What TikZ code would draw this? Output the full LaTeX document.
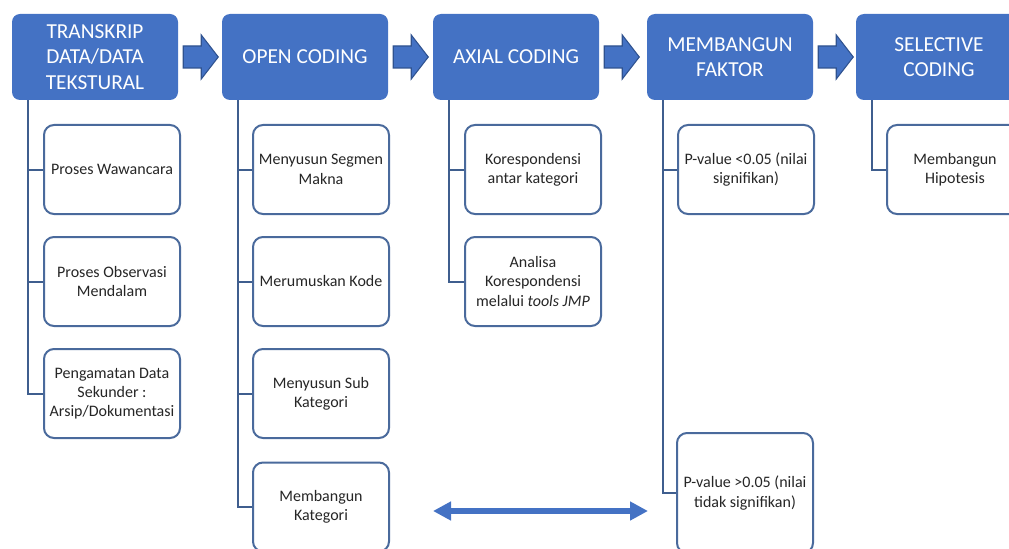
\documentclass[tikz,border=0pt]{standalone}
\usepackage{fontspec}
\setmainfont{Carlito}
\usepackage{tikz}
\usetikzlibrary{arrows.meta, positioning, calc}
\definecolor{hblue}{HTML}{4472C4}
\definecolor{hedge}{HTML}{2F528F}
\definecolor{cedge}{HTML}{4A6A9C}
\definecolor{tline}{HTML}{3F5E8E}

\tikzset{
  stagebox/.style={rectangle, rounded corners=6pt, fill=hblue, text=white,
    minimum width=124.5pt, minimum height=64.5pt, inner sep=0pt, align=center,
    font=\fontsize{16}{19.2}\selectfont},
  subbox/.style={rectangle, rounded corners=7.5pt, draw=cedge, line width=1.5pt,
    fill=white, text=black!85, minimum width=102pt, minimum height=66.75pt,
    inner sep=0pt, align=center, font=\fontsize{12}{14.5}\selectfont},
  link/.style={draw=tline, line width=1.5pt},
  blockarrow/.style={fill=hblue, draw=hedge, line width=0.8pt, line join=miter},
}

\begin{document}
\begin{tikzpicture}[x=0.75pt, y=-0.75pt]
            \clip (0,0) rectangle (1009,549);
            % Stages
            \node[stagebox] (h1) at (95,57) {TRANSKRIP\\DATA/DATA\\TEKSTURAL};
            \node[stagebox] (h2) at (305,57) {OPEN CODING};
            \node[stagebox] (h3) at (516,57) {AXIAL CODING};
            \node[stagebox] (h4) at (730,57) {MEMBANGUN\\FAKTOR};
            \node[stagebox] (h5) at (939,57) {SELECTIVE\\CODING};
            % Block arrows between stages
            \foreach \a in {h1,h2,h3,h4}
              \draw[blockarrow] ($(\a.east)+(5,-11)$) -- ++(18,0) -- ++(0,-11)
                -- ++(17,22) -- ++(-17,22) -- ++(0,-11) -- ++(-18,0) -- cycle;
            % Transkrip
            \node[subbox] (c11) at (112,169.5) {Proses Wawancara};
            \node[subbox] (c12) at (112,281.5) {Proses Observasi\\Mendalam};
            \node[subbox] (c13) at (112,393.5) {Pengamatan Data\\Sekunder :\\Arsip/Dokumentasi};
            % Open coding
            \node[subbox] (c21) at (321,169.5) {Menyusun Segmen\\Makna};
            \node[subbox] (c22) at (321,281.5) {Merumuskan Kode};
            \node[subbox] (c23) at (321,393.5) {Menyusun Sub\\Kategori};
            \node[subbox] (c24) at (321,507) {Membangun\\Kategori};
            % Axial coding
            \node[subbox] (c31) at (533,169.5) {Korespondensi\\antar kategori};
            \node[subbox] (c32) at (533,281.5) {Analisa\\Korespondensi\\melalui \textit{tools JMP}};
            % Membangun faktor
            \node[subbox] (c41) at (746,169.5) {P-value <0.05 (nilai\\signifikan)};
            \node[subbox, minimum height=90pt] (c42) at (745,493) {P-value >0.05 (nilai\\tidak signifikan)};
            % Selective coding
            \node[subbox] (c51) at (955,169.5) {Membangun\\Hipotesis};
            % Tree lines
            \foreach \h/\c in {h1/c11,h1/c12,h1/c13,h2/c21,h2/c22,h2/c23,h2/c24,
                               h3/c31,h3/c32,h4/c41,h4/c42,h5/c51}
              \draw[link] ($(\h.south west)+(16,0)$) |- (\c.west);
            % Double arrow
            \coordinate (dl) at (433,511);
            \coordinate (dr) at (648,511);
            \draw[hblue, line width=4.5pt, {Triangle[length=13.5pt,width=13.5pt]}-{Triangle[length=13.5pt,width=13.5pt]}] (dl) -- (dr);
\end{tikzpicture}
\end{document}
